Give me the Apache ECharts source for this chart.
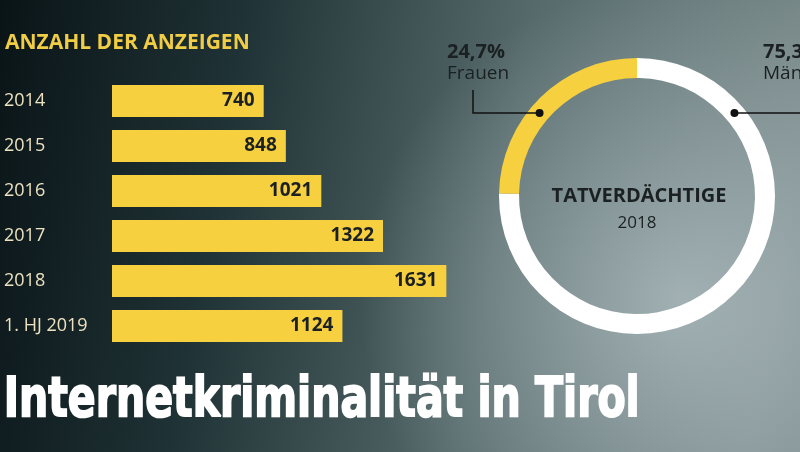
<!DOCTYPE html>
<html>
<head>
<meta charset="utf-8">
<script src="https://cdn.jsdelivr.net/npm/echarts@6/dist/echarts.min.js"></script>
<style>
html, body { margin: 0; padding: 0; }
#chart { width: 800px; height: 452px; }
</style>
</head>
<body>
<div id="chart"></div>
<script>
// Anzahl der Anzeigen
var years = ['2014', '2015', '2016', '2017', '2018', '1. HJ 2019'];
var reports = [740, 848, 1021, 1322, 1631, 1124];

// Tatverdächtige 2018
var genderNames = ['Männer', 'Frauen'];
var genderShare = [75.3, 24.7];

var YELLOW = '#f6d03f';
var INK = '#1b2023';
var FONT = '"Open Sans", "Noto Sans", sans-serif';

// donut geometry
var cx = 637, cy = 196, rIn = 118, rOut = 138;
var rMid = (rIn + rOut) / 2;
var dotDy = -83;
var dotDx = Math.sqrt(rMid * rMid - dotDy * dotDy);

function pct(v) {
    return v.toFixed(1).replace('.', ',') + '%';
}

var chart = echarts.init(document.getElementById('chart'));

var option = {
    animation: false,
    backgroundColor: {
        type: 'linear', x: 0, y: 0, x2: 1, y2: 0.3,
        colorStops: [
            { offset: 0, color: '#0a1417' },
            { offset: 0.3, color: '#1f3235' },
            { offset: 0.65, color: '#566a6b' },
            { offset: 1, color: '#7a8a8b' }
        ]
    },
    title: [{
        text: 'ANZAHL DER ANZEIGEN',
        left: 5, top: 33, padding: 0,
        textStyle: { color: '#f1cd45', fontFamily: FONT, fontWeight: 'bold', fontSize: 21 }
    }, {
        text: 'TATVERDÄCHTIGE',
        left: cx + 2, top: 186, padding: 0, textAlign: 'center',
        textStyle: { color: INK, fontFamily: FONT, fontWeight: 'bold', fontSize: 20 }
    }, {
        text: '2018',
        left: cx, top: 215, padding: 0, textAlign: 'center',
        textStyle: { color: INK, fontFamily: FONT, fontWeight: 'normal', fontSize: 17 }
    }],
    grid: { left: 112, top: 78.5, width: 410, height: 270, containLabel: false },
    xAxis: {
        type: 'value', min: 0, max: 2000, show: false
    },
    yAxis: {
        type: 'category', data: years, inverse: true,
        axisLine: { show: false }, axisTick: { show: false },
        axisLabel: {
            align: 'left', margin: 108,
            color: '#ece2c0', fontFamily: FONT, fontSize: 18
        }
    },
    series: [{
        type: 'bar',
        data: reports,
        barWidth: 32,
        itemStyle: { color: YELLOW },
        label: {
            show: true, position: 'insideRight', distance: 9,
            color: INK, fontFamily: FONT, fontWeight: 'bold', fontSize: 19
        }
    }, {
        type: 'pie',
        center: [cx, cy],
        radius: [rIn, rOut],
        startAngle: 90,
        clockwise: true,
        label: { show: false },
        labelLine: { show: false },
        emphasis: { disabled: true },
        data: genderNames.map(function (n, i) {
            return { name: n, value: genderShare[i], itemStyle: { color: i === 0 ? '#ffffff' : YELLOW } };
        })
    }],
    graphic: [{
        // soft spotlight behind the donut
        type: 'circle', z: -10, silent: true,
        shape: { cx: 680, cy: 300, r: 320 },
        style: {
            fill: {
                type: 'radial', x: 0.5, y: 0.5, r: 0.5,
                colorStops: [
                    { offset: 0, color: 'rgba(195,208,212,0.6)' },
                    { offset: 1, color: 'rgba(195,208,212,0)' }
                ]
            }
        }
    }, {
        type: 'polyline', z: 10, silent: true,
        shape: { points: [[cx - dotDx, cy + dotDy], [473, cy + dotDy], [473, 90]] },
        style: { stroke: '#111', lineWidth: 1.5, fill: null }
    }, {
        type: 'polyline', z: 10, silent: true,
        shape: { points: [[cx + dotDx, cy + dotDy], [800, cy + dotDy]] },
        style: { stroke: '#111', lineWidth: 1.5, fill: null }
    }, {
        type: 'circle', z: 11, silent: true,
        shape: { cx: cx - dotDx, cy: cy + dotDy, r: 4 },
        style: { fill: '#111' }
    }, {
        type: 'circle', z: 11, silent: true,
        shape: { cx: cx + dotDx, cy: cy + dotDy, r: 4 },
        style: { fill: '#111' }
    }, {
        type: 'text', z: 10, left: 447, top: 42,
        style: { text: pct(genderShare[1]), fill: INK, font: 'bold 20px ' + FONT }
    }, {
        type: 'text', z: 10, left: 447, top: 64,
        style: { text: genderNames[1], fill: INK, font: '19px ' + FONT }
    }, {
        type: 'text', z: 10, left: 763, top: 42,
        style: { text: pct(genderShare[0]), fill: INK, font: 'bold 20px ' + FONT }
    }, {
        type: 'text', z: 10, left: 3, top: 373, scaleX: 0.815,
        style: {
            text: 'Internetkriminalität in Tirol', fill: '#ffffff',
            stroke: '#ffffff', lineWidth: 1.8,
            font: 'bold 56px "Liberation Sans Narrow", "DejaVu Sans Condensed", sans-serif'
        }
    }, {
        type: 'text', z: 10, left: 763, top: 64,
        style: { text: genderNames[0], fill: INK, font: '19px ' + FONT }
    }]
};

chart.setOption(option);
</script>
</body>
</html>
